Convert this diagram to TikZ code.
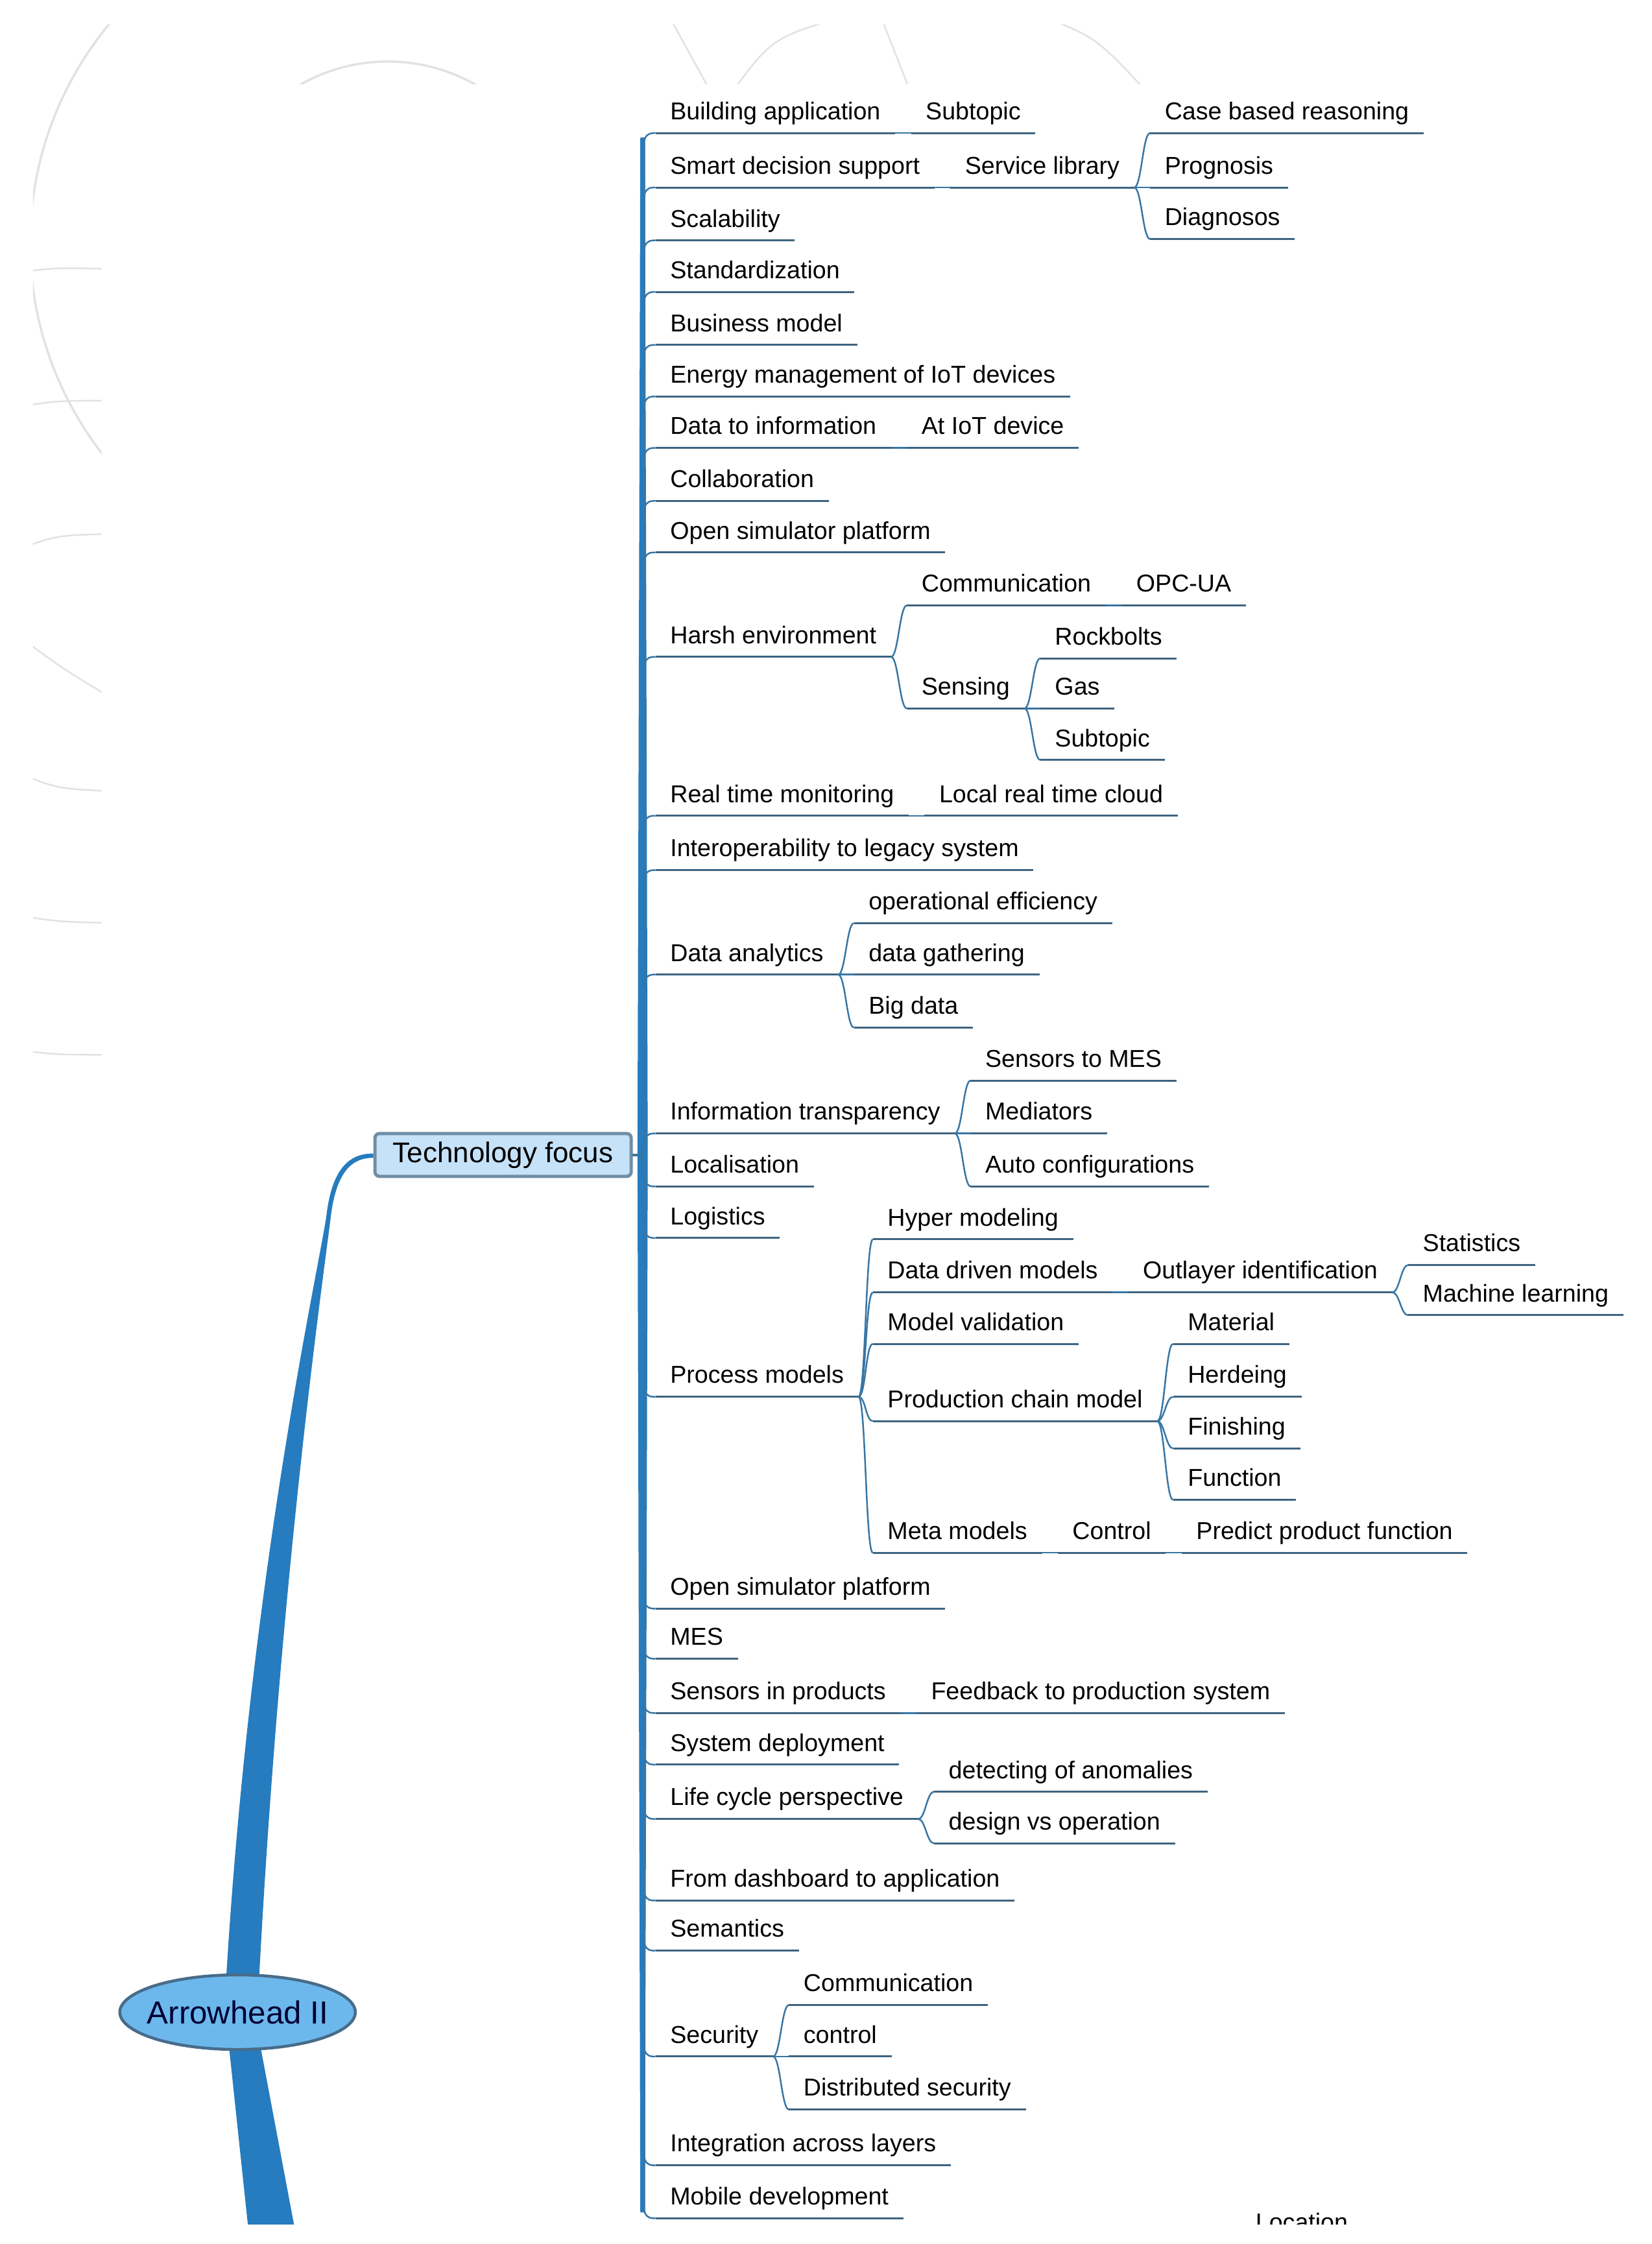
\documentclass[tikz,border=0pt]{standalone}
\usepackage{fontspec}
\setmainfont{Liberation Sans}
\usetikzlibrary{calc,shapes.geometric,backgrounds}

\definecolor{trunkblue}{RGB}{38,124,190}
\definecolor{linkblue}{RGB}{55,118,165}
\definecolor{ulineblue}{RGB}{62,100,128}
\definecolor{focusfill}{RGB}{198,226,248}
\definecolor{focusdraw}{RGB}{112,142,166}
\definecolor{rootfill}{RGB}{108,184,236}
\definecolor{rootdraw}{RGB}{72,108,138}
\definecolor{wmgray}{RGB}{226,226,226}

\tikzset{
  uline/.style={draw=ulineblue, line width=0.3mm},
  branch/.style={draw=linkblue, line width=0.25mm},
  faint/.style={draw=wmgray, line width=0.25mm},
  topic/.style={font=\fontsize{10.7}{12}\selectfont, anchor=south west,
    inner xsep=2.2mm, inner ysep=2mm, text height=2.8mm, text depth=0pt,
    append after command={(\tikzlastnode.south west) edge[uline] (\tikzlastnode.south east)}},
  focusbox/.style={draw=focusdraw, fill=focusfill, line width=0.5mm, rounded corners=0.7mm,
    font=\fontsize{12.5}{14}\selectfont, minimum width=3.95cm, minimum height=6.6mm, inner sep=0pt},
  rootnode/.style={ellipse, draw=rootdraw, fill=rootfill, line width=0.45mm,
    minimum width=3.63cm, minimum height=1.15cm, inner xsep=-1.2mm, inner ysep=0pt,
    font=\fontsize{14}{16}\selectfont, text=black!80!blue}
}

\begin{document}
\begin{tikzpicture}[x=0.2206mm, y=-0.2206mm]
\useasboundingbox (0,0) rectangle (1154,1568);

% faint watermark behind the map
\begin{scope}[on background layer]
  \fill[white] (0,0) rectangle (1154,1568);
  \begin{scope}
  \clip (23,17) rectangle (71,760) (23,17) rectangle (850,59);
  \draw[faint, line width=0.35mm] (107,354) .. controls (52.6,308.5) and (21,240.9) .. (21,170)
    .. controls (21,99.1) and (52.6,31.5) .. (107,-14);
  \draw[faint, line width=0.35mm] (271,167) circle (124);
  \draw[faint] (464,5) -- (497,65);
  \draw[faint] (509,68) .. controls (540,25) .. (605,8);
  \draw[faint] (614,8) -- (636,64);
  \draw[faint] (718,8) .. controls (765,25) .. (803,66);
  \draw[faint] (15,190) .. controls (40,187) .. (80,188);
  \draw[faint] (15,284) .. controls (40,280) .. (80,280);
  \draw[faint] (15,383) .. controls (40,374) .. (80,373);
  \draw[faint] (15,446) .. controls (45,468) .. (80,489);
  \draw[faint] (15,541) .. controls (40,551) .. (80,553);
  \draw[faint] (15,640) .. controls (40,644) .. (80,645);
  \draw[faint] (15,734) .. controls (40,737) .. (80,737);
  \end{scope}
\end{scope}

\clip (23,17) rectangle (1154,1554);

\node[rootnode] (root) at (166,1406) {Arrowhead II};
\node[focusbox] (tf) at (351.5,807) {Technology focus};

\foreach \n/\y/\lbl in {ba/93/Building application, sds/131/Smart decision support,
    sca/168/Scalability, std/204/Standardization, bm/241/Business model,
    emd/277/Energy management of IoT devices, dti/313/Data to information,
    col/350/Collaboration, osp/386/Open simulator platform, harsh/459/Harsh environment,
    rtm/570/Real time monitoring, ils/608/Interoperability to legacy system,
    dan/681/Data analytics, itr/792/Information transparency, loc/829/Localisation,
    logi/865/Logistics, pm/976/Process models, osp2/1124/Open simulator platform,
    mes/1159/MES, sip/1197/Sensors in products, sdep/1233/System deployment,
    lcp/1271/Life cycle perspective, fda/1328/From dashboard to application,
    sem/1363/Semantics, sec/1437/Security, ial/1513/Integration across layers,
    mdev/1550/Mobile development}
  \node[topic] (\n) at (458,\y) {\lbl};

\node[topic] (ba1) at ($(ba.south east)+(11,0)$) {Subtopic};
\node[topic] (slib) at ($(sds.south east)+(11,0)$) {Service library};
\node[topic] (cbr) at ($(slib.south east)+(11,-38)$) {Case based reasoning};
\node[topic] (prog) at ($(slib.south east)+(11,0)$) {Prognosis};
\node[topic] (diag) at ($(slib.south east)+(11,36)$) {Diagnosos};
\node[topic] (aiot) at ($(dti.south east)+(11,0)$) {At IoT device};
\node[topic] (hcom) at ($(harsh.south east)+(11,-36)$) {Communication};
\node[topic] (opc) at ($(hcom.south east)+(11,0)$) {OPC-UA};
\node[topic] (sens) at ($(harsh.south east)+(11,36)$) {Sensing};
\node[topic] (rock) at ($(sens.south east)+(11,-35)$) {Rockbolts};
\node[topic] (gas) at ($(sens.south east)+(11,0)$) {Gas};
\node[topic] (sub2) at ($(sens.south east)+(11,36)$) {Subtopic};
\node[topic] (lrc) at ($(rtm.south east)+(11,0)$) {Local real time cloud};
\node[topic] (opeff) at ($(dan.south east)+(11,-36)$) {operational efficiency};
\node[topic] (dgat) at ($(dan.south east)+(11,0)$) {data gathering};
\node[topic] (bigd) at ($(dan.south east)+(11,37)$) {Big data};
\node[topic] (s2mes) at ($(itr.south east)+(11,-37)$) {Sensors to MES};
\node[topic] (medi) at ($(itr.south east)+(11,0)$) {Mediators};
\node[topic] (autoc) at ($(itr.south east)+(11,37)$) {Auto configurations};
\node[topic] (hyper) at ($(pm.south east)+(10,-110)$) {Hyper modeling};
\node[topic] (ddm) at ($(pm.south east)+(10,-73)$) {Data driven models};
\node[topic] (mval) at ($(pm.south east)+(10,-37)$) {Model validation};
\node[topic] (pcm) at ($(pm.south east)+(10,17)$) {Production chain model};
\node[topic] (meta) at ($(pm.south east)+(10,109)$) {Meta models};
\node[topic] (outl) at ($(ddm.south east)+(11,0)$) {Outlayer identification};
\node[topic] (stat) at ($(outl.south east)+(11,-19)$) {Statistics};
\node[topic] (mlearn) at ($(outl.south east)+(11,16)$) {Machine learning};
\node[topic] (mat) at ($(pcm.south east)+(11,-54)$) {Material};
\node[topic] (herd) at ($(pcm.south east)+(11,-17)$) {Herdeing};
\node[topic] (fin) at ($(pcm.south east)+(11,19)$) {Finishing};
\node[topic] (func) at ($(pcm.south east)+(11,55)$) {Function};
\node[topic] (ctrl) at ($(meta.south east)+(11,0)$) {Control};
\node[topic] (pred) at ($(ctrl.south east)+(11,0)$) {Predict product function};
\node[topic] (feed) at ($(sip.south east)+(11,0)$) {Feedback to production system};
\node[topic] (anom) at ($(lcp.south east)+(11,-19)$) {detecting of anomalies};
\node[topic] (dvo) at ($(lcp.south east)+(11,17)$) {design vs operation};
\node[topic] (scom) at ($(sec.south east)+(11,-36)$) {Communication};
\node[topic] (sctl) at ($(sec.south east)+(11,0)$) {control};
\node[topic] (dsec) at ($(sec.south east)+(11,37)$) {Distributed security};
\node[topic] (locn) at (867,1568) {Location};

% spine of the first level
\fill[trunkblue] (447.4,96) -- (450.6,96) -- (452.6,807) -- (450.6,1546) -- (447.4,1546) -- (445.4,807) -- cycle;

\foreach \n in {ba,sds,sca,std,bm,emd,dti,col,osp,harsh,rtm,ils,dan,itr,loc,logi,pm,
    osp2,mes,sip,sdep,lcp,fda,sem,sec,ial,mdev}
  \draw[branch, rounded corners=1.3mm] (tf.east) -- ++(8,0) |- (\n.south west);

\foreach \a/\b in {ba/ba1, sds/slib, slib/cbr, slib/prog, slib/diag, dti/aiot,
    harsh/hcom, hcom/opc, harsh/sens, sens/rock, sens/gas, sens/sub2, rtm/lrc,
    dan/opeff, dan/dgat, dan/bigd, itr/s2mes, itr/medi, itr/autoc,
    pm/hyper, pm/ddm, pm/mval, pm/pcm, pm/meta, ddm/outl, outl/stat, outl/mlearn,
    pcm/mat, pcm/herd, pcm/fin, pcm/func, meta/ctrl, ctrl/pred, sip/feed,
    lcp/anom, lcp/dvo, sec/scom, sec/sctl, sec/dsec}
  \draw[branch] (\a.south east) .. controls +(5,0) and +(-5,0) .. (\b.south west);

% thick main branch
\begin{scope}[on background layer]
  \begin{scope}
  \clip (23,17) rectangle (1154,1554);
  \fill[trunkblue] ($(root.north)+(-8,4)$) .. controls (175,1100) and (222,890) .. (228,850)
    .. controls (232,815) and (245,806) .. ($(tf.west)+(0,-1)$) -- ($(tf.west)+(0,2)$)
    .. controls (247,809) and (235,817) .. (231,851)
    .. controls (226,892) and (196,1100) .. ($(root.north)+(15,4)$) -- cycle;
  \fill[trunkblue] ($(root.south)+(-6,-3)$) -- ($(root.south)+(16,-3)$) -- (214,1600) -- (178,1600) -- cycle;
  \end{scope}
\end{scope}
\end{tikzpicture}
\end{document}
